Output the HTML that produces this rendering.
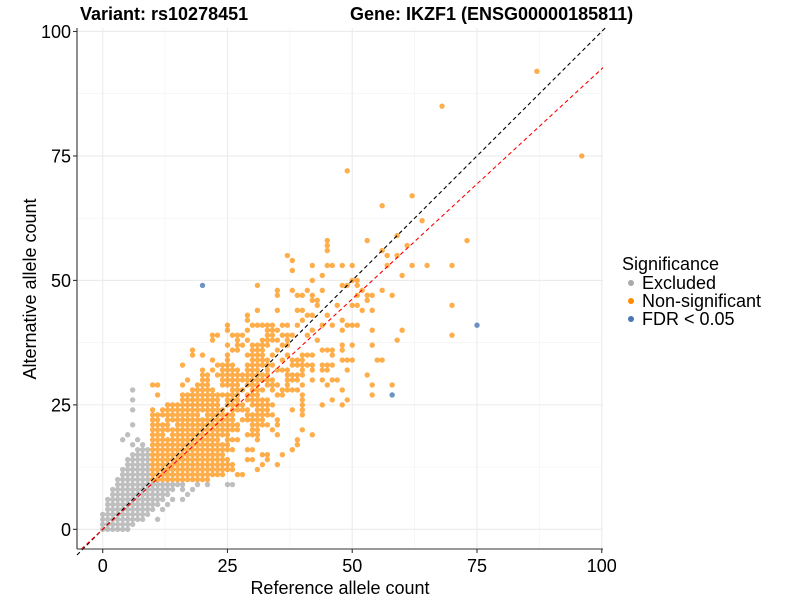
<!DOCTYPE html>
<html><head><meta charset="utf-8"><style>
html,body{margin:0;padding:0;background:#fff;}
svg{display:block;font-family:"Liberation Sans",Arial,sans-serif;}
</style></head><body>
<svg id="chart" width="800" height="600" viewBox="0 0 800 600"></svg>
<script>
// Data rows: "y:x-list" (a-b = each integer count from a to b)
const excludedRows = [
"0:0-5","1:0-6","2:0-8,11","3:0-9","4:1-10,12","5:1-11,13","6:1-12,14,16","7:2-13,17",
"8:2-14,16,18","9:3-16,19,21,25,26","10:3-9","11:4-9","12:4-9","13:5-9","14:5-9","15:6-9",
"16:7-9","17:6,8","18:4,7","19:5","21:6","24:6","26:6","28:6"];
const nonsigRows = [
"10:10-21","11:10-24,27,28","12:10-26,31","13:10-26,32,35","14:10-25,29,30,33",
"15:10-24,32,33,36","16:10-26,29,30,38","17:10-25,39","18:10-23,25-27,31,39",
"19:10-12,14-25,29-31,35,42","20:10-27,30,31,34,40","21:10-13,15-27,30-33,35",
"22:10,11,13-26,28-32,35","23:10-19,21-26,29-34,40","24:10,12-24,26-29,31-33,38,40",
"25:13-23,25-28,30-34,40,44,48","26:16-23,25-27,29-33,40,46,49","27:11,16-27,29-31,35,36,40,54",
"28:18-22,26-28,30-32,34,36-39,48","29:10,11,16,19-21,24-27,29-31,33-35,37,40,45,54,58",
"30:17,20,21,24-33,34,37-39,42,44,46,47","31:20,21,23-33,37-40,53","32:20,22,24-27,29-31,33,35-37,40,42,44,45,49",
"33:16,23-26,29-34,38-42,44-46","34:22,25,30-33,36,38-40,48-50,55,56","35:18,20,25,29-32,34,37,40-42,46",
"36:18,26,27,30-32,35,44-46,48","37:25,27,28,30-33,36,37,48,50,54","38:22,27,29,32-35,37,43,59",
"39:22,23,26-28,33,34,36-38,41,70","40:25,29,33-35,42,48,54,60","41:25,30-34,36,37,39,44,46,49-51",
"42:29,40,48","43:29,41,42,45","44:31,35,39,40,52,54","45:43,47,50,51,70","46:42,43,53",
"47:35,39,40,42,51,53,54,58","48:35,38,41,44,52,56","49:31,48,49,51","50:42,50,51",
"51:44,60","52:38","53:42,45,46,48,50,57,62,65,70","54:38","55:37,57,59","56:45,56",
"57:45,61","58:45,53,73","59:59","62:64","65:56","67:62","72:49","75:96","85:68","92:87"];
const fdrRows = ["49:20","41:75","27:58"];
const xTicks = [0,25,50,75,100];
const yTicks = [0,25,50,75,100];
const redSlope = [0.925];

const svg = document.getElementById('chart');
const NS = 'http://www.w3.org/2000/svg';
const L=77,R=603,T=28,B=549;
const xMin=-5.15,xMax=100.25,yMin=-3.95,yMax=100.7;
const sx=v=>L+(v-xMin)/(xMax-xMin)*(R-L);
const sy=v=>B-(v-yMin)/(yMax-yMin)*(B-T);
function mk(tag,attrs,parent){const e=document.createElementNS(NS,tag);for(const k in attrs)e.setAttribute(k,attrs[k]);(parent||svg).appendChild(e);return e;}
function parse(rows){const out=[];rows.forEach(r=>{const [y,xs]=r.split(':');xs.split(',').forEach(p=>{if(p.includes('-')){const [a,b]=p.split('-').map(Number);for(let x=a;x<=b;x++)out.push([x,+y]);}else out.push([+p,+y]);});});return out;}

const grid=mk('g',{});


[12.5,37.5,62.5,87.5].forEach(v=>{
  mk('line',{x1:sx(v),x2:sx(v),y1:T,y2:B,stroke:'#f2f2f2','stroke-width':0.6},grid);
  mk('line',{x1:L,x2:R,y1:sy(v),y2:sy(v),stroke:'#f2f2f2','stroke-width':0.6},grid);
});
xTicks.forEach(v=>mk('line',{x1:sx(v),x2:sx(v),y1:T,y2:B,stroke:'#ebebeb','stroke-width':1.1},grid));
yTicks.forEach(v=>mk('line',{x1:L,x2:R,y1:sy(v),y2:sy(v),stroke:'#ebebeb','stroke-width':1.1},grid));

function drawPts(rows,color,op,name){
  const g=mk('g',{});
  
  
  parse(rows).forEach(p=>{
    const c=mk('circle',{cx:sx(p[0]),cy:sy(p[1]),r:2.7,fill:color,'fill-opacity':op},g);
    
    
  });
}
drawPts(excludedRows,'#aaaaaa',0.75,'excluded-points');
drawPts(nonsigRows,'#ff8c00',0.7,'nonsignificant-points');
drawPts(fdrRows,'#4a77b4',0.8,'fdr-points');

const diag=mk('line',{x1:sx(xMin),y1:sy(xMin),x2:sx(yMax),y2:sy(yMax),stroke:'#000','stroke-width':1.1,'stroke-dasharray':'4,3'});


const rx0=yMin/redSlope[0];
const red=mk('line',{x1:sx(rx0),y1:sy(yMin),x2:sx(xMax),y2:sy(xMax*redSlope[0]),stroke:'#ff0000','stroke-width':1.1,'stroke-dasharray':'4,3'});



const ax=mk('g',{});


mk('line',{x1:L,x2:L,y1:T,y2:B,stroke:'#333','stroke-width':1.1},ax);
mk('line',{x1:L,x2:R,y1:B,y2:B,stroke:'#333','stroke-width':1.1},ax);
xTicks.forEach(v=>{
  mk('line',{x1:sx(v),x2:sx(v),y1:B,y2:B+4,stroke:'#333','stroke-width':1.1},ax);
  const t=mk('text',{x:sx(v),y:B+23,'text-anchor':'middle','font-size':18,fill:'#000'},ax);t.textContent=v;
  
});
yTicks.forEach(v=>{
  mk('line',{x1:L-4,x2:L,y1:sy(v),y2:sy(v),stroke:'#333','stroke-width':1.1},ax);
  const t=mk('text',{x:L-6,y:sy(v)+6.5,'text-anchor':'end','font-size':18,fill:'#000'},ax);t.textContent=v;
  
});
</script>
<svg style="position:absolute;left:0;top:0" width="800" height="600" font-family="Liberation Sans, Arial, sans-serif">
  <text x="80" y="20" font-size="18" font-weight="bold">Variant: rs10278451</text>
  <text x="350" y="20" font-size="18" font-weight="bold">Gene: IKZF1 (ENSG00000185811)</text>
  <text x="340" y="594" font-size="18" text-anchor="middle">Reference allele count</text>
  <text x="0" y="0" font-size="18" text-anchor="middle" transform="translate(36,289) rotate(-90)">Alternative allele count</text>
  <g>
    <text x="622" y="270" font-size="18">Significance</text>
    <g><circle cx="631" cy="283" r="3" fill="#aaaaaa"/><text x="642" y="289" font-size="18">Excluded</text></g>
    <g><circle cx="631" cy="301" r="3" fill="#ff8c00"/><text x="642" y="307" font-size="18">Non-significant</text></g>
    <g><circle cx="631" cy="319" r="3" fill="#4a77b4"/><text x="642" y="325" font-size="18">FDR &lt; 0.05</text></g>
  </g>
</svg>
</body></html>
